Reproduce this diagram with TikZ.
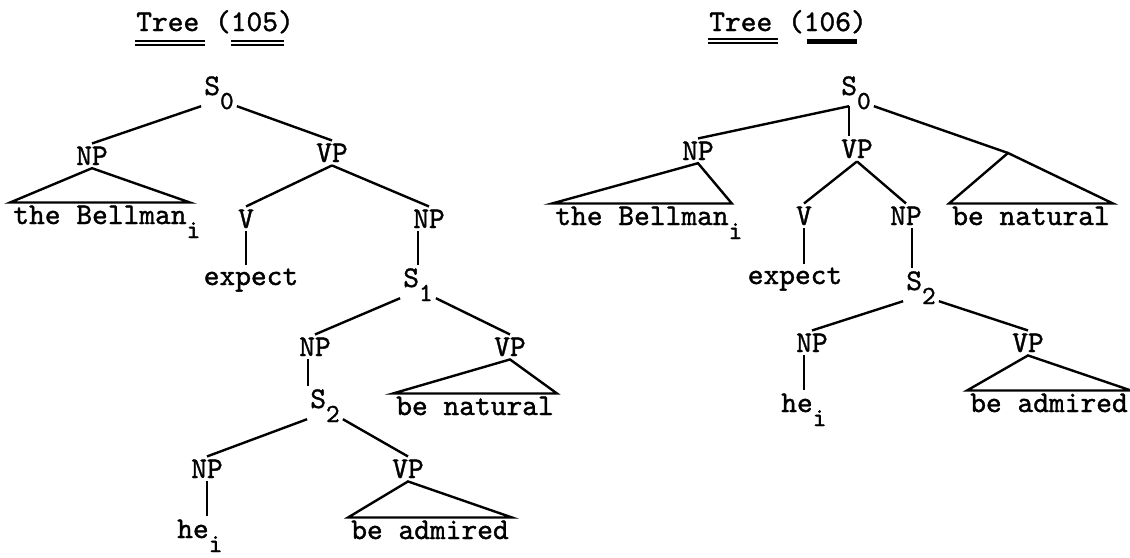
\documentclass[tikz,border=0pt]{standalone}
\usepackage{fontspec}
\newfontfamily\typew{lmmono10-regular.otf}[FakeBold=1.2]
\newcommand{\lowtag}[1]{\raisebox{-14pt}[0pt][0pt]{\fontsize{26}{26}\selectfont #1}}
\begin{document}
\begin{tikzpicture}[x=1pt,y=-1pt,
	font=\fontsize{30}{36}\selectfont\typew,
	every node/.style={inner sep=3pt, anchor=base},
	sn/.style={text depth=8pt},
	br/.style={line width=2.4pt},
	dbl/.style={double, double distance=2pt, line width=2pt}]
	\useasboundingbox (0,0) rectangle (1130,557);

	\node (t105) at (215,31) {Tree (105)};
	\draw[dbl] (135,43) -- (205,43);
	\draw[dbl] (231,43) -- (284,43);
	\node[sn] (s0) at (219,95) {S\lowtag{0}};
	\node (np1) at (92,165) {NP};
	\node (vp1) at (332,162) {VP};
	\node (bell) at (100,224) {the Bellman\rlap{\lowtag{i}}};
	\node (v) at (246,228) {V};
	\node (np2) at (429,228) {NP};
	\node (ex) at (251,285) {expect};
	\node[sn] (s1) at (418,287) {S\lowtag{1}};
	\node (np3) at (315,356) {NP};
	\node (vp3) at (510,356) {VP};
	\node (bn) at (475,415) {be natural};
	\node[sn] (s2) at (325,408) {S\lowtag{2}};
	\node (np4) at (207,478) {NP};
	\node (vp4) at (408,478) {VP};
	\node (he) at (193,538) {he\rlap{\lowtag{i}}};
	\node (ba) at (430,539) {be admired};

	\draw[br] (s0.south west) -- (np1.north);
	\draw[br] (s0.south east) -- (vp1.north);
	\draw[br] (np1.south) -- (bell.north west) -- (bell.north east) -- cycle;
	\draw[br] (vp1.south) -- (v.north);
	\draw[br] (vp1.south) -- (np2.north);
	\draw[br] (v.south) -- (v.south |- ex.north);
	\draw[br] (s1.north) -- (s1.north |- np2.south);
	\draw[br] (s1.south west) -- (np3.north);
	\draw[br] (s1.south east) -- (vp3.north);
	\draw[br] (vp3.south) -- (bn.north west) -- (bn.north east) -- cycle;
	\draw[br] ([xshift=-7pt]np3.south) -- ([xshift=-7pt]np3.south |- s2.north);
	\draw[br] (s2.south west) -- (np4.north);
	\draw[br] (s2.south east) -- (vp4.north);
	\draw[br] (vp4.south) -- (ba.north west) -- (ba.north east) -- cycle;
	\draw[br] (np4.south) -- (np4.south |- he.north);

	\node (t106) at (788,31) {Tree (106)};
	\draw[dbl] (708,41) -- (778,41);
	\draw[line width=5pt] (807,41) -- (857,41);
	\node[sn] (s0r) at (856,95) {S\lowtag{0}};
	\node (np1r) at (698,160) {NP};
	\node (vp1r) at (857,158) {VP};
	\coordinate (adj) at (1008,153);
	\node (bellr) at (642,225) {the Bellman\rlap{\lowtag{i}}};
	\node (vr) at (804,225) {V};
	\node (np2r) at (906,225) {NP};
	\node (bnr) at (1031,225) {be natural};
	\node (exr) at (795,284) {expect};
	\node[sn] (s2r) at (921,290) {S\lowtag{2}};
	\node (np3r) at (812,352) {NP};
	\node (vp3r) at (1028,352) {VP};
	\node (her) at (797,412) {he\rlap{\lowtag{i}}};
	\node (bar) at (1049,412) {be admired};

	\draw[br] ([xshift=-7pt]s0r.south) -- (np1r.north);
	\draw[br] ([xshift=-7pt]s0r.south) -- ([xshift=-7pt]s0r.south |- vp1r.north);
	\draw[br] (s0r.south east) -- (adj);
	\draw[br] (adj) -- (bnr.north west) -- (bnr.north east) -- cycle;
	\draw[br] (np1r.south) -- (bellr.north west) -- (bellr.north east) -- cycle;
	\draw[br] (vp1r.south) -- (vr.north);
	\draw[br] (vp1r.south) -- (np2r.north);
	\draw[br] (vr.south) -- (vr.south |- exr.north);
	\draw[br] ([xshift=6pt]np2r.south) -- ([xshift=6pt]np2r.south |- s2r.north);
	\draw[br] (s2r.south west) -- (np3r.north);
	\draw[br] (s2r.south east) -- (vp3r.north);
	\draw[br] (vp3r.south) -- (bar.north west) -- (bar.north east) -- cycle;
	\draw[br] ([xshift=-8pt]np3r.south) -- ([xshift=-8pt]np3r.south |- her.north);
\end{tikzpicture}
\end{document}
